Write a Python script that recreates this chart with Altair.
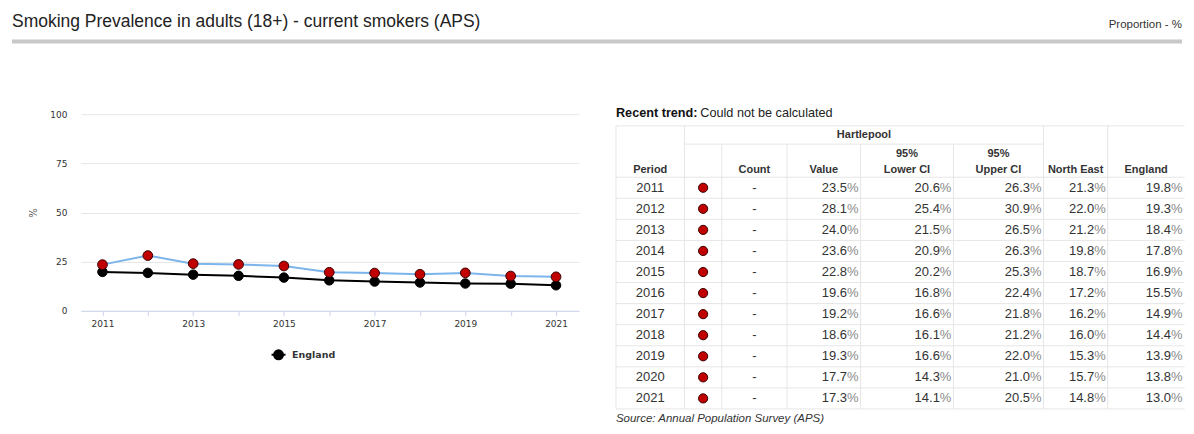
import altair as alt
import numpy as np
import pandas as pd

# ---------------- data ----------------
YEARS = [2011, 2012, 2013, 2014, 2015, 2016, 2017, 2018, 2019, 2020, 2021]
HARTLEPOOL = [23.5, 28.1, 24.0, 23.6, 22.8, 19.6, 19.2, 18.6, 19.3, 17.7, 17.3]
LOWER_CI = [20.6, 25.4, 21.5, 20.9, 20.2, 16.8, 16.6, 16.1, 16.6, 14.3, 14.1]
UPPER_CI = [26.3, 30.9, 26.5, 26.3, 25.3, 22.4, 21.8, 21.2, 22.0, 21.0, 20.5]
NORTH_EAST = [21.3, 22.0, 21.2, 19.8, 18.7, 17.2, 16.2, 16.0, 15.3, 15.7, 14.8]
ENGLAND = [19.8, 19.3, 18.4, 17.8, 16.9, 15.5, 14.9, 14.4, 13.9, 13.8, 13.0]
COUNT = ["-"] * 11
Y_TICKS = [0, 25, 50, 75, 100]

TITLE = "Smoking Prevalence in adults (18+) - current smokers (APS)"
UNIT = "Proportion - %"
TREND_LABEL = "Recent trend:"
TREND_TEXT = "Could not be calculated"
SOURCE = "Source: Annual Population Survey (APS)"
AREA = "Hartlepool"
COLUMNS = ["Period", "", "Count", "Value", "95%\nLower CI", "95%\nUpper CI", "North East", "England"]

# ---------------- layout constants ----------------
FONT_AX = "DejaVu Sans"
FONT_TB = "Liberation Sans"
COL_W = [68.6, 37.4, 65.3, 73.7, 93.0, 90.3, 64.3, 77.0]
EDGES = np.concatenate([[0.0], np.cumsum(COL_W)])
CENTERS = (EDGES[:-1] + EDGES[1:]) / 2
TW = float(EDGES[-1])
TH = 322
Y0, Y1 = -3.967, 11.293          # table rows in row units (row i centred on i)
PAD = 2.0
PCT_W = 0.889 * 13               # width of "%" at 13px
TOTAL_W = 1178

# ---------------- header ----------------
title_mark = alt.Chart(pd.DataFrame({"t": [TITLE]})).mark_text(
    align="left", baseline="alphabetic", font=FONT_TB, fontSize=17.5, color="#222"
).encode(text="t:N", x=alt.value(4), y=alt.value(19))
unit_mark = alt.Chart(pd.DataFrame({"t": [UNIT]})).mark_text(
    align="right", baseline="alphabetic", font=FONT_TB, fontSize=11.5, color="#333"
).encode(text="t:N", x=alt.value(TOTAL_W - 2), y=alt.value(19.5))
bar_mark = alt.Chart(pd.DataFrame({"t": [0]})).mark_rule(
    color="#c8c8c8", strokeWidth=4
).encode(x=alt.value(4), x2=alt.value(TOTAL_W - 2), y=alt.value(33.3))
header = alt.layer(title_mark, unit_mark, bar_mark).properties(width=TOTAL_W - 2, height=96)

# ---------------- line chart ----------------
df = pd.DataFrame({"Year": YEARS, "Hartlepool": HARTLEPOOL, "England": ENGLAND})
df["Series"] = "England"

xs = alt.Scale(domain=[2010.524, 2021.507], nice=False, zero=False)
ys = alt.Scale(domain=[0, 100], nice=False, zero=False)
xax = alt.Axis(values=YEARS, format="d", labelExpr="datum.value % 2 == 1 ? datum.label : ''",
               grid=False, domainColor="#ccd6eb", tickColor="#ccd6eb", tickSize=5,
               labelFont=FONT_AX, labelFontSize=9, labelColor="#333", labelPadding=4,
               title=None)
yax = alt.Axis(values=Y_TICKS, grid=True, gridColor="#e6e6e6", domain=False, ticks=False,
               tickSize=0, labelPadding=14, labelFont=FONT_AX, labelFontSize=9,
               labelColor="#333", title="%", titleFont=FONT_AX, titleFontSize=10,
               titleFontWeight="normal", titleColor="#666", titlePadding=11.5)

base = alt.Chart(df)
X = alt.X("Year:Q", scale=xs, axis=xax)
h_line = base.mark_line(color="#7cb5ec", strokeWidth=2).encode(
    x=X, y=alt.Y("Hartlepool:Q", scale=ys, axis=yax))

# custom legend symbol (line through a circle), in Vega's [-1, 1] unit box
legend_symbol = "M-1,0H1M0.64,0A0.64,0.64,0,1,1,-0.64,0A0.64,0.64,0,1,1,0.64,0Z"
ser_scale = alt.Scale(domain=["England"], range=["#000000"])
eng_legend = alt.Legend(title=None, orient="none", legendX=263, legendY=339,
                        symbolType=legend_symbol, symbolSize=196,
                        symbolStrokeColor="#000000", symbolFillColor="#000000",
                        symbolStrokeWidth=2,
                        labelFont=FONT_AX, labelFontSize=9.5,
                        labelFontWeight="bold", labelColor="#333",
                        labelOffset=5.5, padding=0)

e_line = base.mark_line(strokeWidth=2).encode(
    x=X, y=alt.Y("England:Q", scale=ys, axis=yax),
    stroke=alt.Stroke("Series:N", scale=ser_scale, legend=eng_legend))
e_pts = base.mark_point(filled=True, shape="circle", size=90, opacity=1, color="#000000",
                        stroke="#000000", strokeWidth=1).encode(
    x=X, y=alt.Y("England:Q", scale=ys, axis=yax))
h_pts = base.mark_point(filled=True, shape="circle", size=95, opacity=1, color="#c00000",
                        stroke="#3a0000", strokeWidth=1).encode(
    x=X, y=alt.Y("Hartlepool:Q", scale=ys, axis=yax))
line_chart = alt.layer(h_line, e_line, e_pts, h_pts).properties(width=499, height=197)

# ---------------- table ----------------
txs = alt.Scale(domain=[0, TW], nice=False, zero=False)
tys = alt.Scale(domain=[Y0, Y1], nice=False, zero=False, reverse=True)
TX = alt.X("x:Q", scale=txs, axis=None)
TY = alt.Y("y:Q", scale=tys, axis=None)
n = len(YEARS)
rows = list(range(n))

TOP, SUB, HB, BOTTOM = -2.94, -2.07, -0.5, n - 0.5
hl = [(0, TW, TOP, TOP), (EDGES[1], EDGES[6], SUB, SUB)] + \
     [(0, TW, HB + k, HB + k) for k in range(n + 1)]
vl = [(EDGES[k], EDGES[k], TOP, BOTTOM) for k in (0, 1, 6, 7)] + \
     [(EDGES[k], EDGES[k], SUB, BOTTOM) for k in (2, 3, 4, 5)]
lines_df = pd.DataFrame(hl + vl, columns=["x", "x2", "y", "y2"])
grid = alt.Chart(lines_df).mark_rule(color="#e6e6e6", strokeWidth=1).encode(
    x=TX, x2="x2:Q", y=TY, y2="y2:Q")

center_df = pd.DataFrame({"x": [CENTERS[0]] * n + [CENTERS[2]] * n,
                          "y": rows + rows,
                          "t": [str(y) for y in YEARS] + COUNT})
center_txt = alt.Chart(center_df).mark_text(
    align="center", baseline="middle", font=FONT_TB, fontSize=13, color="#333"
).encode(x=TX, y=TY, text="t:N")

num_series = [(3, HARTLEPOOL), (4, LOWER_CI), (5, UPPER_CI), (6, NORTH_EAST), (7, ENGLAND)]
num_df = pd.DataFrame([{"x": EDGES[c + 1] - PAD - PCT_W, "y": i, "t": f"{v:.1f}"}
                       for c, vals in num_series for i, v in enumerate(vals)])
pct_df = pd.DataFrame([{"x": EDGES[c + 1] - PAD, "y": i, "t": "%"}
                       for c, vals in num_series for i, v in enumerate(vals)])
num_txt = alt.Chart(num_df).mark_text(
    align="right", baseline="middle", font=FONT_TB, fontSize=13, color="#333"
).encode(x=TX, y=TY, text="t:N")
pct_txt = alt.Chart(pct_df).mark_text(
    align="right", baseline="middle", font=FONT_TB, fontSize=13, color="#8a8a8a"
).encode(x=TX, y=TY, text="t:N")

marker_df = pd.DataFrame({"x": [CENTERS[1]] * n, "y": rows, "v": HARTLEPOOL})
markers = alt.Chart(marker_df).mark_point(
    filled=True, shape="circle", size=85, opacity=1, color="#c00000",
    stroke="#3a0000", strokeWidth=1
).encode(x=TX, y=TY)

head_rows = []
for c, name in enumerate(COLUMNS):
    parts = name.split("\n")
    if len(parts) == 2:
        head_rows.append({"x": CENTERS[c], "y": -1.47, "t": parts[0]})
        head_rows.append({"x": CENTERS[c], "y": -0.71, "t": parts[1]})
    elif name:
        head_rows.append({"x": CENTERS[c], "y": -0.71, "t": name})
head_df = pd.DataFrame(head_rows)
head_txt = alt.Chart(head_df).mark_text(
    align="center", baseline="alphabetic", font=FONT_TB, fontSize=11,
    fontWeight="bold", color="#333"
).encode(x=TX, y=TY, text="t:N")
area_txt = alt.Chart(pd.DataFrame({"x": [(EDGES[1] + EDGES[6]) / 2], "y": [-2.5], "t": [AREA]})).mark_text(
    align="center", baseline="middle", font=FONT_TB, fontSize=11, fontWeight="bold", color="#333"
).encode(x=TX, y=TY, text="t:N")

trend_b = alt.Chart(pd.DataFrame({"x": [0], "y": [-3.54], "t": [TREND_LABEL]})).mark_text(
    align="left", baseline="middle", font=FONT_TB, fontSize=12.7, fontWeight="bold", color="#111"
).encode(x=TX, y=TY, text="t:N")
trend_r = alt.Chart(pd.DataFrame({"x": [84.5], "y": [-3.54], "t": [TREND_TEXT]})).mark_text(
    align="left", baseline="middle", font=FONT_TB, fontSize=12.7, color="#222"
).encode(x=TX, y=TY, text="t:N")
source_txt = alt.Chart(pd.DataFrame({"x": [0], "y": [11.1], "t": [SOURCE]})).mark_text(
    align="left", baseline="alphabetic", font=FONT_TB, fontSize=11.5, fontStyle="italic", color="#333"
).encode(x=TX, y=TY, text="t:N")

table = alt.layer(grid, center_txt, num_txt, pct_txt, markers, head_txt, area_txt,
                  trend_b, trend_r, source_txt).properties(width=TW, height=TH)


# ---------------- composition ----------------
def spacer(w, h):
    return alt.Chart(pd.DataFrame({"a": [0]})).mark_point(opacity=0, size=0).encode(
        x=alt.value(0), y=alt.value(0)).properties(width=w, height=h)


left_col = alt.vconcat(spacer(1, 5.5), line_chart, spacing=0)
left = alt.hconcat(spacer(20, 1), left_col, spacing=0)
body = alt.hconcat(left, table, spacing=36)
chart = alt.vconcat(header, body, spacing=0).properties(padding=0).configure_view(stroke=None)

chart.save("out.html", embed_options={"renderer": "svg", "actions": False})
